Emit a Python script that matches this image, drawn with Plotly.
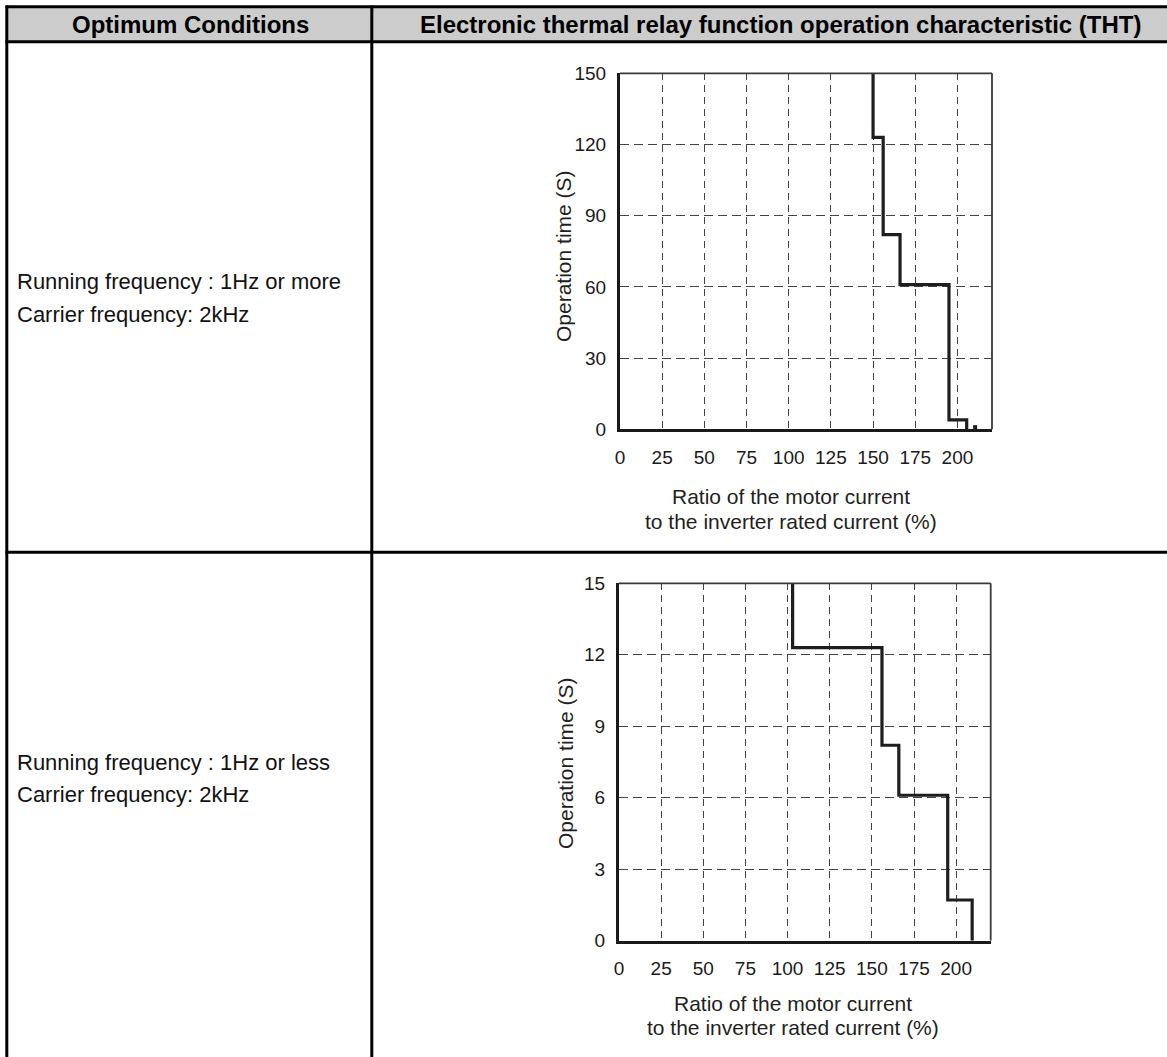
import plotly.graph_objects as go

W, H = 1167, 1057

# ---- data ----
x_ticks = [0, 25, 50, 75, 100, 125, 150, 175, 200]
y_ticks_top = [0, 30, 60, 90, 120, 150]
y_ticks_bot = [0, 3, 6, 9, 12, 15]

# step characteristic (line_shape 'vh'): current ratio (%) -> operation time (s)
top_current = [150, 156, 166, 195, 205.5, 205.5]
top_time = [150, 123, 82, 61, 4, 0]
top_dot_current = [210.5]
top_dot_time = [0.9]

bot_current = [103, 156, 166, 195, 209.5, 209.5, 210.5]
bot_time = [15, 12.3, 8.2, 6.1, 1.7, 0, 0]

header_left = "Optimum Conditions"
header_right = "Electronic thermal relay function operation characteristic (THT)"
row1_text = ["Running frequency : 1Hz or more", "Carrier frequency: 2kHz"]
row2_text = ["Running frequency : 1Hz or less", "Carrier frequency: 2kHz"]
x_title = ["Ratio of the motor current", "to the inverter rated current (%)"]
y_title = "Operation time (S)"

FONT = "Liberation Sans, Arial, Helvetica, sans-serif"


def X(px):
    return px / W


def Y(py):
    return 1 - py / H


fig = go.Figure()

line_style = dict(color="#1e1e1e", width=3.2)
fig.add_trace(go.Scatter(x=top_current, y=top_time, mode="lines", line_shape="vh",
                         line=line_style, xaxis="x", yaxis="y", showlegend=False,
                         cliponaxis=False))
fig.add_trace(go.Scatter(x=top_dot_current, y=top_dot_time, mode="markers",
                         marker=dict(symbol="square", size=4, color="#1e1e1e"),
                         xaxis="x", yaxis="y", showlegend=False, cliponaxis=False))
fig.add_trace(go.Scatter(x=bot_current, y=bot_time, mode="lines", line_shape="vh",
                         line=line_style, xaxis="x2", yaxis="y2", showlegend=False,
                         cliponaxis=False))

# plot areas in pixels
top_box = dict(l=620, r=992, t=73.3, b=429.3)
bot_box = dict(l=619, r=990.7, t=583.3, b=940.5)

tickfont = dict(family=FONT, size=19, color="#1a1a1a")


def xaxis_def(box, anchor):
    return dict(domain=[X(box["l"]), X(box["r"])], anchor=anchor, range=[0, 220.5],
                tickvals=x_ticks, ticktext=[str(v) for v in x_ticks], tickfont=tickfont,
                showgrid=True, gridcolor="#444444", gridwidth=1.2, griddash="7px,5px",
                showline=True, linecolor="#1a1a1a", linewidth=3, zeroline=False,
                ticks="", ticklabelstandoff=9, fixedrange=True, automargin=False)


def yaxis_def(box, anchor, rng, ticks):
    return dict(domain=[Y(box["b"]), Y(box["t"])], anchor=anchor, range=rng,
                tickvals=ticks, ticktext=[str(v) for v in ticks], tickfont=tickfont,
                showgrid=True, gridcolor="#444444", gridwidth=1.2, griddash="9px,5px",
                showline=True, linecolor="#1a1a1a", linewidth=3, zeroline=False,
                ticks="", ticklabelstandoff=7, fixedrange=True, automargin=False)


shapes = []
# header background
shapes.append(dict(type="rect", xref="paper", yref="paper", x0=X(7), x1=X(1167),
                   y0=Y(41.7), y1=Y(6.7), fillcolor="#cccccc", line=dict(width=0),
                   layer="below"))
border = dict(color="#000000", width=3)
# horizontal table lines
for py in [6.7, 41.7, 552.3]:
    shapes.append(dict(type="line", xref="paper", yref="paper", x0=X(5.5), x1=X(1167),
                       y0=Y(py), y1=Y(py), line=border))
# vertical table lines
for px in [6.8, 371.8]:
    shapes.append(dict(type="line", xref="paper", yref="paper", x0=X(px), x1=X(px),
                       y0=Y(5.5), y1=Y(1057), line=border))

# top / right frame lines of each plot
for xr, yr in [("x", "y"), ("x2", "y2")]:
    shapes.append(dict(type="line", xref=f"{xr} domain", yref=f"{yr} domain",
                       x0=0, x1=1, y0=1, y1=1, line=dict(color="#3a3a3a", width=1.8)))
    shapes.append(dict(type="line", xref=f"{xr} domain", yref=f"{yr} domain",
                       x0=1, x1=1, y0=0, y1=1, line=dict(color="#3a3a3a", width=1.8)))

annotations = []
hfont = dict(family=FONT, size=24, color="#000000")
annotations.append(dict(text=f"<b>{header_left}</b>", x=X(190), y=Y(25), xref="paper",
                        yref="paper", showarrow=False, font=hfont, xanchor="center",
                        yanchor="middle"))
annotations.append(dict(text=f"<b>{header_right}</b>", x=X(781), y=Y(25), xref="paper",
                        yref="paper", showarrow=False, font=hfont, xanchor="center",
                        yanchor="middle"))

bfont = dict(family=FONT, size=22, color="#111111")
for lines, ys in [(row1_text, [282, 314]), (row2_text, [762, 794])]:
    for txt, py in zip(lines, ys):
        annotations.append(dict(text=txt, x=X(15), y=Y(py), xref="paper", yref="paper",
                                showarrow=False, font=bfont, xanchor="left",
                                yanchor="middle"))

tfont = dict(family=FONT, size=21, color="#231f20")
for ys, cx in [([497, 521], 791), ([1003, 1027], 793)]:
    for txt, py in zip(x_title, ys):
        annotations.append(dict(text=txt, x=X(cx), y=Y(py), xref="paper", yref="paper",
                                showarrow=False, font=tfont, xanchor="center",
                                yanchor="middle"))
for cx, cy in [(563, 256), (565, 763)]:
    annotations.append(dict(text=y_title, x=X(cx), y=Y(cy), xref="paper", yref="paper",
                            showarrow=False, font=tfont, textangle=-90,
                            xanchor="center", yanchor="middle"))

fig.update_layout(
    width=W, height=H, margin=dict(l=0, r=0, t=0, b=0, pad=0, autoexpand=False),
    paper_bgcolor="white", plot_bgcolor="white",
    xaxis=xaxis_def(top_box, "y"),
    yaxis=yaxis_def(top_box, "x", [0, 150], y_ticks_top),
    xaxis2=xaxis_def(bot_box, "y2"),
    yaxis2=yaxis_def(bot_box, "x2", [0, 15], y_ticks_bot),
    shapes=shapes, annotations=annotations, showlegend=False,
    font=dict(family=FONT),
)

fig.write_html(
    "out.html",
    config={"displayModeBar": False},
    post_script="document.body.style.margin='0px';document.body.style.overflow='hidden';",
)
